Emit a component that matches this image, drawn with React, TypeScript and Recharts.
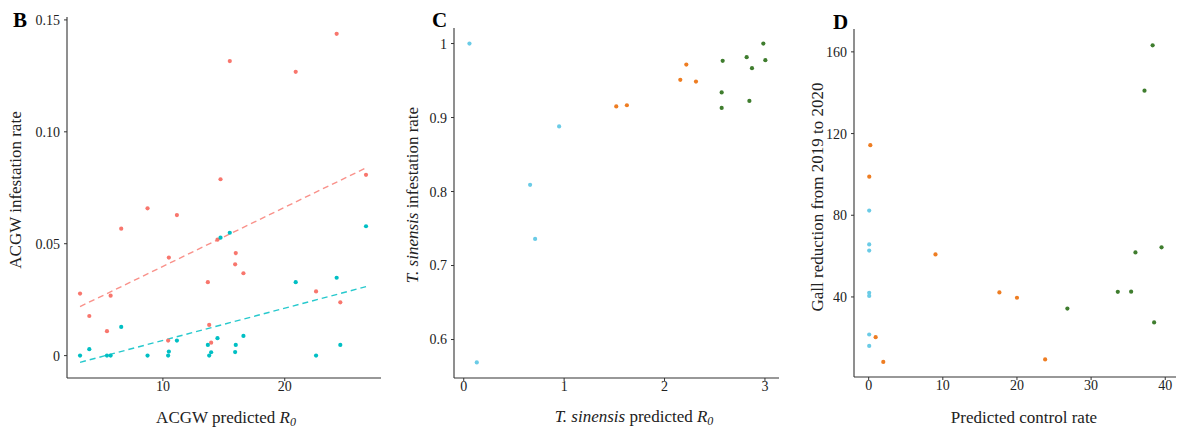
import React from 'react';
import { ScatterChart, Scatter, XAxis, YAxis } from 'recharts';

// ---------- Panel B data ----------
const acgwR0 = [3.2, 3.96, 5.41, 5.71, 6.58, 8.74, 10.43, 10.49, 11.15, 13.69, 13.8, 13.96, 14.48, 14.73, 15.49, 15.93, 15.98, 16.61, 20.9, 22.57, 24.26, 24.56, 26.67];
const acgwRateRed = [0.0277, 0.0177, 0.0109, 0.0268, 0.0567, 0.0658, 0.0067, 0.0438, 0.0628, 0.0328, 0.0137, 0.0058, 0.0518, 0.0788, 0.1316, 0.0408, 0.0458, 0.0368, 0.1268, 0.0287, 0.1438, 0.0238, 0.0808];
const acgwRateCyan = [0, 0.0029, 0, 0, 0.0128, 0, 0, 0.0018, 0.0067, 0.0048, 0, 0.0015, 0.0078, 0.0527, 0.0549, 0.0016, 0.0048, 0.0088, 0.0328, 0, 0.0348, 0.0048, 0.0578];
const trendX = [3.2, 26.67];
const trendRed = [0.0219, 0.0839];
const trendCyan = [-0.003, 0.0308];
const bXTicks = [10, 20];
const bYTicks = [0, 0.05, 0.1, 0.15];
const bYLabels = ['0', '0.05', '0.10', '0.15'];

// ---------- Panel C data ----------
const cLowX = [0.057, 0.13, 0.661, 0.711, 0.95];
const cLowY = [1.0, 0.569, 0.809, 0.736, 0.888];
const cMidX = [1.519, 1.625, 2.157, 2.217, 2.313];
const cMidY = [0.915, 0.9166, 0.951, 0.9716, 0.9486];
const cHighX = [2.569, 2.569, 2.579, 2.818, 2.845, 2.871, 2.984, 3.004];
const cHighY = [0.934, 0.913, 0.9766, 0.9816, 0.9225, 0.9667, 1.0, 0.9775];
const cXTicks = [0, 1, 2, 3];
const cYTicks = [0.6, 0.7, 0.8, 0.9, 1];
const cYLabels = ['0.6', '0.7', '0.8', '0.9', '1'];

// ---------- Panel D data ----------
const dLowX = [0.07, 0.07, 0.07, 0.07, 0.07, 0.07, 0.07];
const dLowY = [82.3, 65.7, 62.7, 42.0, 40.5, 21.6, 16.0];
const dMidX = [0.22, 0.08, 9.01, 17.63, 20.0, 0.94, 1.97, 23.8];
const dMidY = [114.3, 98.9, 60.8, 42.2, 39.6, 20.3, 8.2, 9.4];
const dHighX = [38.3, 37.2, 35.98, 39.5, 33.6, 35.4, 26.8, 38.5];
const dHighY = [163.2, 141.0, 61.8, 64.3, 42.5, 42.6, 34.3, 27.5];
const dXTicks = [0, 10, 20, 30, 40];
const dYTicks = [40, 80, 120, 160];

const RED = '#F8766D';
const CYAN = '#00BFC4';
const LBLUE = '#6ACBE6';
const ORANGE = '#EE7D22';
const GREEN = '#3F7D2E';
const FONT = '"Liberation Serif", "Times New Roman", serif';
const AXIS = '#333333';
const TEXT = '#222222';

const zip = (xs: number[], ys: number[]) => xs.map((x, i) => ({ x, y: ys[i] }));

const dot = (color: string) => (props: any) => (
  <circle cx={props.cx} cy={props.cy} r={2.1} fill={color} />
);
const noShape = () => <g />;

const labelFor = (ticks: number[], labels?: string[]) => (v: number) => {
  if (!labels) return String(v);
  const i = ticks.findIndex((t) => Math.abs(t - v) < 1e-9);
  return i >= 0 ? labels[i] : String(v);
};

const xTick = (fmt: (v: number) => string) => (props: any) => (
  <text x={props.x} y={props.y} dy="0.71em" textAnchor="middle" fontFamily={FONT} fontSize={14} fill={TEXT}>
    {fmt(props.payload.value)}
  </text>
);

const yTick = (fmt: (v: number) => string) => (props: any) => (
  <text x={props.x} y={props.y} dy="0.355em" textAnchor="end" fontFamily={FONT} fontSize={14} fill={TEXT}>
    {fmt(props.payload.value)}
  </text>
);

const panelLetter = (letter: string, x: number, y: number) => (
  <text x={x} y={y} fontFamily={FONT} fontSize={21} fontWeight="bold" fill="#000">{letter}</text>
);

type Part = { t: string; i?: boolean; sub?: boolean };

const renderParts = (parts: Part[]) =>
  parts.map((p, k) => (
    <tspan key={k} fontStyle={p.i ? 'italic' : 'normal'} fontSize={p.sub ? 12 : undefined} dy={p.sub ? 3 : undefined}>
      {p.t}
    </tspan>
  ));

const xTitle = (parts: Part[], cx: number, baseline: number) => () => (
  <text x={cx} y={baseline} textAnchor="middle" fontFamily={FONT} fontSize={17} fill={TEXT}>
    {renderParts(parts)}
  </text>
);

const yTitle = (parts: Part[], bx: number, cy: number, letter: string, lx: number, ly: number) => () => (
  <g>
    <text x={bx} y={cy} transform={`rotate(-90, ${bx}, ${cy})`} textAnchor="middle" fontFamily={FONT} fontSize={17} fill={TEXT}>
      {renderParts(parts)}
    </text>
    {panelLetter(letter, lx, ly)}
  </g>
);

const axisProps = {
  type: 'number' as const,
  allowDataOverflow: true,
  axisLine: { stroke: AXIS, strokeWidth: 1.1 },
  tickLine: { stroke: AXIS },
  tickSize: 3,
};

export default function App() {
  const bRed = zip(acgwR0, acgwRateRed);
  const bCyan = zip(acgwR0, acgwRateCyan);
  const bTrendRed = zip(trendX, trendRed);
  const bTrendCyan = zip(trendX, trendCyan);

  return (
    <div style={{ position: 'absolute', left: 0, top: 0, width: 1180, height: 428, background: '#fff', fontFamily: FONT }}>
      <div style={{ position: 'absolute', left: 0, top: 0 }}>
        <ScatterChart width={390} height={428} margin={{ top: 17, right: 9, bottom: 0, left: 0 }}>
          <XAxis
            {...axisProps}
            dataKey="x"
            domain={[2.13, 27.9]}
            ticks={bXTicks}
            height={50}
            tickMargin={0}
            tick={xTick(labelFor(bXTicks))}
            label={xTitle([{ t: 'ACGW predicted ' }, { t: 'R', i: true }, { t: '0', i: true, sub: true }], 226, 422.5)}
          />
          <YAxis
            {...axisProps}
            dataKey="y"
            domain={[-0.01, 0.1513]}
            ticks={bYTicks}
            width={67}
            tickMargin={4}
            tick={yTick(labelFor(bYTicks, bYLabels))}
            label={yTitle([{ t: 'ACGW infestation rate' }], 21, 190, 'B', 13, 27)}
          />
          <Scatter data={bTrendRed} line={{ stroke: RED, strokeWidth: 1.4, strokeDasharray: '6 4', strokeOpacity: 0.8 }} shape={noShape} isAnimationActive={false} />
          <Scatter data={bTrendCyan} line={{ stroke: CYAN, strokeWidth: 1.4, strokeDasharray: '6 4', strokeOpacity: 0.85 }} shape={noShape} isAnimationActive={false} />
          <Scatter data={bRed} shape={dot(RED)} isAnimationActive={false} />
          <Scatter data={bCyan} shape={dot(CYAN)} isAnimationActive={false} />
        </ScatterChart>
      </div>

      <div style={{ position: 'absolute', left: 390, top: 0 }}>
        <ScatterChart width={390} height={428} margin={{ top: 28, right: 1, bottom: 0, left: 0 }}>
          <XAxis
            {...axisProps}
            dataKey="x"
            domain={[-0.097, 3.14]}
            ticks={cXTicks}
            height={50}
            tickMargin={0}
            tick={xTick(labelFor(cXTicks))}
            label={xTitle([{ t: 'T. sinensis', i: true }, { t: ' predicted ' }, { t: 'R', i: true }, { t: '0', i: true, sub: true }], 244, 422)}
          />
          <YAxis
            {...axisProps}
            dataKey="y"
            domain={[0.548, 1.021]}
            ticks={cYTicks}
            width={64}
            tickMargin={4}
            tick={yTick(labelFor(cYTicks, cYLabels))}
            label={yTitle([{ t: 'T. sinensis', i: true }, { t: '  infestation rate' }], 28, 195, 'C', 42, 27)}
          />
          <Scatter data={zip(cLowX, cLowY)} shape={dot(LBLUE)} isAnimationActive={false} />
          <Scatter data={zip(cMidX, cMidY)} shape={dot(ORANGE)} isAnimationActive={false} />
          <Scatter data={zip(cHighX, cHighY)} shape={dot(GREEN)} isAnimationActive={false} />
        </ScatterChart>
      </div>

      <div style={{ position: 'absolute', left: 780, top: 0 }}>
        <ScatterChart width={400} height={428} margin={{ top: 29, right: 4, bottom: 0, left: 0 }}>
          <XAxis
            {...axisProps}
            dataKey="x"
            domain={[-1.98, 41.45]}
            ticks={dXTicks}
            height={51}
            tickMargin={0}
            tick={xTick(labelFor(dXTicks))}
            label={xTitle([{ t: 'Predicted control rate' }], 244, 422.5)}
          />
          <YAxis
            {...axisProps}
            dataKey="y"
            domain={[0.8, 171.2]}
            ticks={dYTicks}
            width={74}
            tickMargin={4}
            tick={yTick(labelFor(dYTicks))}
            label={yTitle([{ t: 'Gall reduction from 2019 to 2020' }], 43, 197, 'D', 53, 29)}
          />
          <Scatter data={zip(dLowX, dLowY)} shape={dot(LBLUE)} isAnimationActive={false} />
          <Scatter data={zip(dMidX, dMidY)} shape={dot(ORANGE)} isAnimationActive={false} />
          <Scatter data={zip(dHighX, dHighY)} shape={dot(GREEN)} isAnimationActive={false} />
        </ScatterChart>
      </div>
    </div>
  );
}
